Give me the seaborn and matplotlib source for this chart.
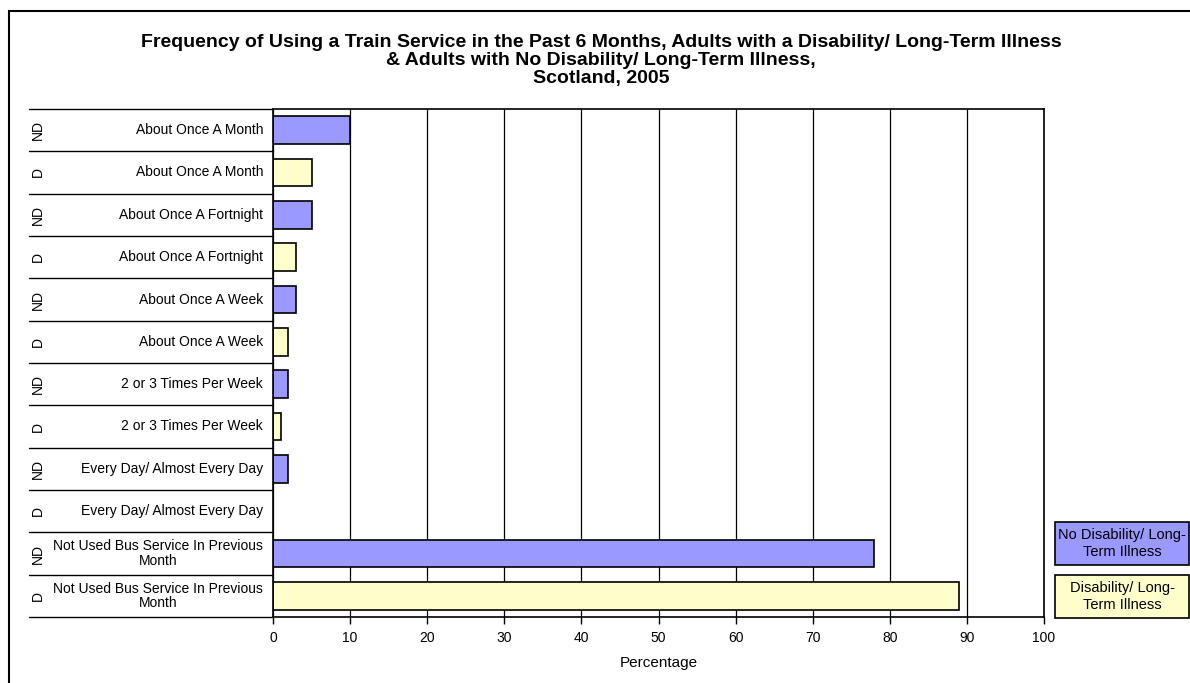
import matplotlib
matplotlib.use("Agg")
import matplotlib.pyplot as plt
import matplotlib.patches as mpatches
import pandas as pd
import seaborn as sns

sns.set_theme(style="white")
plt.rcParams["font.family"] = ["Liberation Sans", "DejaVu Sans"]
plt.rcParams["text.color"] = "black"
plt.rcParams["axes.labelcolor"] = "black"
plt.rcParams["xtick.color"] = "black"

# dữ liệu (từ trên xuống dưới)
frequency = [
    "About Once A Month", "About Once A Month",
    "About Once A Fortnight", "About Once A Fortnight",
    "About Once A Week", "About Once A Week",
    "2 or 3 Times Per Week", "2 or 3 Times Per Week",
    "Every Day/ Almost Every Day", "Every Day/ Almost Every Day",
    "Not Used Bus Service In Previous\nMonth", "Not Used Bus Service In Previous\nMonth",
]
group_code = ["ND", "D"] * 6
percentage = [10, 5, 5, 3, 3, 2, 2, 1, 2, 0, 78, 89]
legend_names = {"ND": "No Disability/ Long-\nTerm Illness", "D": "Disability/ Long-\nTerm Illness"}
colors = {"ND": "#9999FF", "D": "#FFFFCC"}
x_ticks = list(range(0, 101, 10))

df = pd.DataFrame({"freq": frequency, "group": group_code, "pct": percentage})
df["row"] = [f"{g}|{f}" for g, f in zip(df["group"], df["freq"])]

fig = plt.figure(figsize=(11.9, 6.83), dpi=100)
ax = fig.add_axes([273 / 1190, 1 - 617 / 683, (1044 - 273) / 1190, (617 - 109) / 683])

sns.barplot(data=df, y="row", x="pct", hue="group", order=list(df["row"]),
            palette=colors, saturation=1, dodge=False, width=0.66,
            edgecolor="black", linewidth=1.2, legend=False, ax=ax)

ax.set_xlim(0, 100)
ax.set_ylim(len(df) - 0.5, -0.5)
ax.set_xticks(x_ticks)
ax.set_xticklabels([str(t) for t in x_ticks], fontsize=10)
ax.tick_params(axis="x", direction="out", length=5, width=1, color="black", pad=5, bottom=True)
ax.set_yticks([])
ax.set_ylabel("")
ax.set_xlabel("Percentage", fontsize=11, labelpad=8)
ax.grid(axis="x", color="black", linewidth=0.9)
ax.set_axisbelow(True)
for s in ax.spines.values():
    s.set_visible(True)
    s.set_color("black")
    s.set_linewidth(1.2)

# nhãn phân cấp kiểu Excel bên trái
xl = (29 - 273) / (1044 - 273)
xcode = (38 - 273) / (1044 - 273)
xlab = (263 - 273) / (1044 - 273)
trans = ax.get_yaxis_transform()
for i, (f, g) in enumerate(zip(df["freq"], df["group"])):
    ax.text(xlab, i, f, transform=trans, ha="right", va="center",
            multialignment="center", fontsize=10, linespacing=1.05)
    ax.text(xcode, i, g, transform=trans, ha="center", va="center",
            rotation=90, fontsize=10)
for b in range(len(df) + 1):
    ax.plot([xl, 0], [b - 0.5, b - 0.5], transform=trans, color="black",
            linewidth=1, clip_on=False)

# tiêu đề
fig.text(0.505, 1 - 34 / 683,
         "Frequency of Using a Train Service in the Past 6 Months, Adults with a Disability/ Long-Term Illness\n"
         "& Adults with No Disability/ Long-Term Illness,\nScotland, 2005",
         ha="center", va="top", fontsize=14, fontweight="bold", linespacing=1.07)

# chú giải dạng hộp
for key, y0, y1 in [("ND", 522, 565), ("D", 575, 618)]:
    rect = mpatches.Rectangle((1055 / 1190, 1 - y1 / 683), 134 / 1190, (y1 - y0) / 683,
                              transform=fig.transFigure, facecolor=colors[key],
                              edgecolor="black", linewidth=1.2)
    fig.patches.append(rect)
    fig.text((1055 + 67) / 1190, 1 - (y0 + y1) / 2 / 683, legend_names[key],
             ha="center", va="center", fontsize=10.5, multialignment="center",
             linespacing=1.2)

# khung ngoài
frame = mpatches.Rectangle((9 / 1190, -0.05), 1.1, 1 - 11 / 683 + 0.05,
                           transform=fig.transFigure, fill=False,
                           edgecolor="black", linewidth=1.5)
fig.patches.append(frame)

fig.savefig("out.png", dpi=100)
